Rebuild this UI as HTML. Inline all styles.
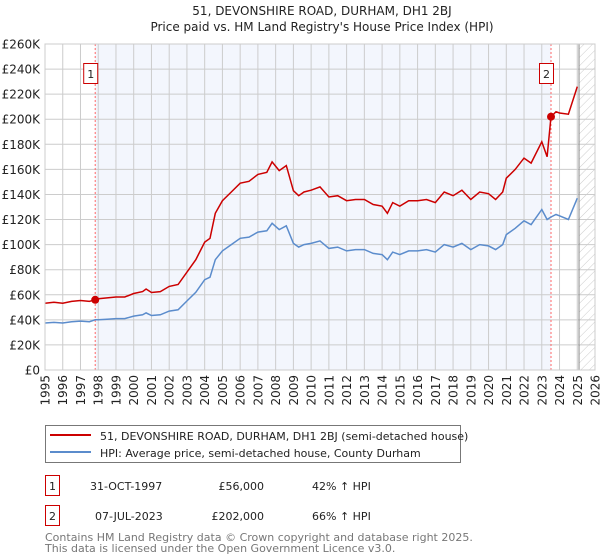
<!DOCTYPE html>
<html><head><meta charset="utf-8"><style>
body{margin:0;background:#fff;}
svg{display:block;font-family:"DejaVu Sans","Liberation Sans",sans-serif;}
</style></head><body>
<svg id="chart" width="600" height="560" viewBox="0 0 600 560">
<text x="322" y="15" text-anchor="middle" font-size="12" fill="#222">51, DEVONSHIRE ROAD, DURHAM, DH1 2BJ</text>
<text x="322" y="31" text-anchor="middle" font-size="12" fill="#222">Price paid vs. HM Land Registry's House Price Index (HPI)</text>
<defs><pattern id="hatch" width="6" height="6" patternUnits="userSpaceOnUse" patternTransform="rotate(45)"><line x1="0" y1="0" x2="0" y2="6" stroke="#ccc" stroke-width="1"/></pattern></defs>
<g id="plot"></g>
<g>
<rect x="45.5" y="425.5" width="415" height="37" fill="#fff" stroke="#777"/>
<line x1="50" y1="435" x2="91" y2="435" stroke="#cc0000" stroke-width="2"/>
<text x="100" y="440" font-size="11" fill="#222">51, DEVONSHIRE ROAD, DURHAM, DH1 2BJ (semi-detached house)</text>
<line x1="50" y1="452" x2="91" y2="452" stroke="#5b8ccc" stroke-width="2"/>
<text x="100" y="457" font-size="11" fill="#222">HPI: Average price, semi-detached house, County Durham</text>
</g>
<g font-size="11" fill="#222">
<rect x="45.5" y="475.5" width="14" height="20" fill="#fff" stroke="#cc0000"/>
<text x="52.5" y="490" text-anchor="middle">1</text>
<text x="90" y="490">31-OCT-1997</text>
<text x="264" y="490" text-anchor="end">£56,000</text>
<text x="312" y="490">42% ↑ HPI</text>
<rect x="45.5" y="505.5" width="14" height="20" fill="#fff" stroke="#cc0000"/>
<text x="52.5" y="520" text-anchor="middle">2</text>
<text x="95" y="520">07-JUL-2023</text>
<text x="264" y="520" text-anchor="end">£202,000</text>
<text x="312" y="520">66% ↑ HPI</text>
</g>
<text x="45" y="541" font-size="11" fill="#777">Contains HM Land Registry data © Crown copyright and database right 2025.</text>
<text x="45" y="552" font-size="11" fill="#777">This data is licensed under the Open Government Licence v3.0.</text>
</svg>
<script>
const dates=[1995,1995.5,1996,1996.5,1997,1997.5,1997.83,1998,1998.5,1999,1999.5,2000,2000.5,2000.7,2001,2001.5,2002,2002.5,2003,2003.5,2004,2004.3,2004.6,2005,2005.5,2006,2006.5,2007,2007.5,2007.8,2008.2,2008.6,2009,2009.3,2009.6,2010,2010.5,2011,2011.5,2012,2012.5,2013,2013.5,2014,2014.3,2014.6,2015,2015.5,2016,2016.5,2017,2017.5,2018,2018.5,2019,2019.5,2020,2020.4,2020.8,2021,2021.5,2022,2022.4,2023,2023.3,2023.52,2023.8,2024,2024.5,2025];
const hpi=[37.5,38,37.5,38.5,39,38.5,40,40,40.5,41,41,43,44,45.5,43.5,44,47,48,55,62,72,74,88,95,100,105,106,110,111,117,112,115,101,98,100,101,103,97,98,95,96,96,93,92,88,94,92,95,95,96,94,100,98,101,96,100,99,96,100,108,113,119,116,128,120,122,124,123,120,137];
const price=[53.3,54,53.3,54.7,55.4,54.7,56,56.8,57.5,58.2,58.2,61,62.5,64.6,61.8,62.5,66.7,68.2,78,88,102,105,125,135,142,149,150.5,156,157.6,166,159,163,143,139,142,143.4,146,138,139,135,136,136,132,130.6,125,133.5,130.6,135,135,136,133.5,142,139,143.4,136,142,140.6,136,142,153,160,169,165,182,170,202,206,205,204,226];
const saleDates=[1997.83,2023.52];
const salePrices=[56,202];
const saleLabels=["1","2"];
const yTicks=[0,20,40,60,80,100,120,140,160,180,200,220,240,260];
const xTicks=[];for(let y=1995;y<=2026;y++)xTicks.push(y);

const L=45,R=595,T=44,B=370,X0=1995,X1=2026,YMAX=260;
const xs=d=>L+(d-X0)/(X1-X0)*(R-L);
const ys=v=>B-v/YMAX*(B-T);
const NS="http://www.w3.org/2000/svg";
const g=document.getElementById('plot');
function mk(tag,attrs,parent){const e=document.createElementNS(NS,tag);for(const k in attrs)e.setAttribute(k,attrs[k]);(parent||g).appendChild(e);return e;}
const bg=mk('rect',{x:L,y:T,width:R-L,height:B-T,fill:'#fff'});


const shade=mk('rect',{x:xs(saleDates[0]),y:T,width:xs(saleDates[1])-xs(saleDates[0]),height:B-T,fill:'#f3f6fd'});


const hat=mk('rect',{x:xs(2025.1),y:T,width:R-xs(2025.1),height:B-T,fill:'url(#hatch)'});


xTicks.forEach(t=>{
 const l=mk('line',{x1:xs(t),x2:xs(t),y1:T,y2:B,stroke:'#ccc','stroke-width':1});
 
 
 const tx=mk('text',{x:0,y:0,'font-size':12,fill:'#222','text-anchor':'end',transform:`translate(${xs(t)+4.5},375) rotate(-90)`});
 tx.textContent=t;
 
 
});
yTicks.forEach(t=>{
 const l=mk('line',{x1:L,x2:R,y1:ys(t),y2:ys(t),stroke:'#ccc','stroke-width':1});
 
 
 const tx=mk('text',{x:40,y:ys(t)+4.5,'font-size':12,fill:'#222','text-anchor':'end'});
 tx.textContent=t===0?'£0':'£'+t+'K';
 
 
});
const endLine=mk('line',{x1:xs(2025.1),x2:xs(2025.1),y1:T,y2:B,stroke:'#888','stroke-width':1});


saleDates.forEach((d,i)=>{
 const l=mk('line',{x1:xs(d),x2:xs(d),y1:T,y2:B,stroke:'#ff6666','stroke-width':1,'stroke-dasharray':'2,2'});
 
 
});
const pts=a=>a.map((v,i)=>xs(dates[i]).toFixed(1)+','+ys(v).toFixed(1)).join(' ');
const hl=mk('polyline',{points:pts(hpi),fill:'none',stroke:'#5b8ccc','stroke-width':1.5});


const pl=mk('polyline',{points:pts(price),fill:'none',stroke:'#cc0000','stroke-width':1.5});


saleDates.forEach((d,i)=>{
 const c=mk('circle',{cx:xs(d),cy:ys(salePrices[i]),r:4,fill:'#cc0000'});
 
 
 const bx=mk('rect',{x:xs(d)-11.5,y:63.5,width:14,height:20,fill:'#fff',stroke:'#cc0000'});
 
 
 const t=mk('text',{x:xs(d)-4.5,y:78,'font-size':11,fill:'#222','text-anchor':'middle'});
 t.textContent=saleLabels[i];
 
 
});
const fr=mk('rect',{x:L,y:T,width:R-L,height:B-T,fill:'none',stroke:'#ccc'});


</script>
</body></html>
